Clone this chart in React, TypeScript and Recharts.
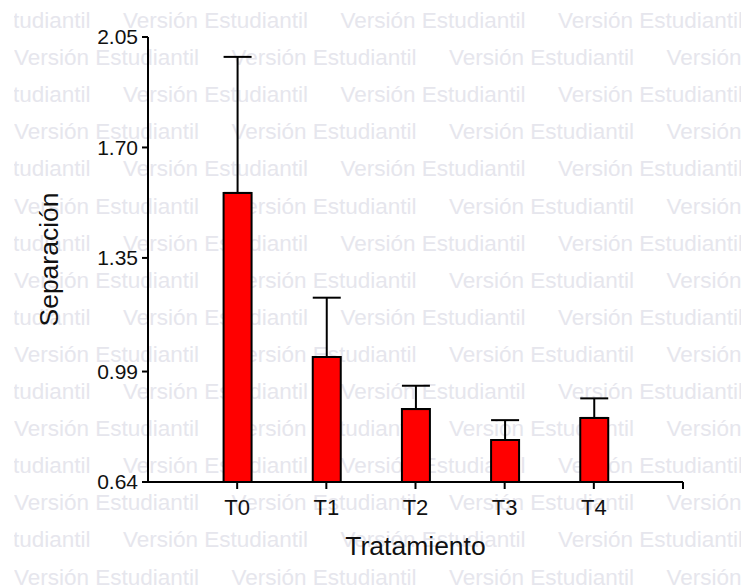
import React from "react";
import { Bar, BarChart, ErrorBar, XAxis, YAxis } from "recharts";

const categories = ["T0", "T1", "T2", "T3", "T4"];
const means = [1.556, 1.036, 0.871, 0.773, 0.843];
const upperErrors = [0.431, 0.188, 0.074, 0.063, 0.062];
const yTicks = [0.64, 0.99, 1.35, 1.7, 2.05];
const xTicks = [1, 2, 3, 4, 5, 6];

const WATERMARK = "Versión Estudiantil";
const FONT = "'Liberation Sans', Arial, sans-serif";
const INK = "#111111";

const data = categories.map((name, i) => ({
  name,
  pos: i + 1,
  value: means[i],
  errRange: [0, upperErrors[i]],
}));

// background "student version" stamp, behind the chart
function Watermark() {
  const rows = [];
  for (let r = 0; r < 16; r++) {
    const y = 28 + r * 37.1;
    const start = r % 2 === 0 ? -94.5 : 14;
    for (let c = 0; c < 5; c++) {
      rows.push(
        <text key={`${r}-${c}`} x={start + c * 217.5} y={y}>
          {WATERMARK}
        </text>
      );
    }
  }
  return (
    <svg
      width={741}
      height={587}
      style={{ position: "absolute", left: 0, top: 0 }}
    >
      <defs>
        <clipPath id="wm-clip">
          <rect x={14} y={0} width={727} height={587} />
        </clipPath>
      </defs>
      <g
        clipPath="url(#wm-clip)"
        fill="#e6e6ed"
        fontFamily={FONT}
        fontSize={22.5}
      >
        {rows}
      </g>
    </svg>
  );
}

export default function App() {
  return (
    <div
      style={{
        position: "absolute",
        left: 0,
        top: 0,
        width: 741,
        height: 587,
        background: "#fff",
      }}
    >
      <Watermark />
      <div style={{ position: "absolute", left: 0, top: 0 }}>
        <BarChart
          width={741}
          height={587}
          data={data}
          margin={{ top: 37, right: 58, bottom: 0, left: 0 }}
        >
          <XAxis
            dataKey="pos"
            type="number"
            domain={[0, 6]}
            ticks={xTicks}
            allowDecimals={false}
            tickFormatter={(v) => categories[v - 1] ?? ""}
            height={105}
            stroke="#000"
            strokeWidth={2}
            tickSize={7}
            tickMargin={10}
            tick={{ fill: INK, fontSize: 22, fontFamily: FONT }}
            label={({ viewBox }: any) => (
              <text
                x={viewBox.x + viewBox.width / 2}
                y={viewBox.y + 73}
                textAnchor="middle"
                fill={INK}
                fontSize={26.5}
                fontFamily={FONT}
              >
                Tratamiento
              </text>
            )}
          />
          <YAxis
            type="number"
            domain={[0.64, 2.05]}
            ticks={yTicks}
            allowDataOverflow
            width={148}
            stroke="#000"
            strokeWidth={2}
            tickSize={6}
            tickMargin={4}
            tickFormatter={(v) => Number(v).toFixed(2)}
            tick={{ fill: INK, fontSize: 21, fontFamily: FONT }}
            label={({ viewBox }: any) => {
              const cx = viewBox.x + 58;
              const cy = viewBox.y + viewBox.height / 2;
              return (
                <text
                  x={cx}
                  y={cy}
                  transform={`rotate(-90, ${cx}, ${cy})`}
                  textAnchor="middle"
                  fill={INK}
                  fontSize={26.5}
                  fontFamily={FONT}
                >
                  Separación
                </text>
              );
            }}
          />
          <Bar
            dataKey="value"
            fill="#ff0000"
            stroke="#000"
            strokeWidth={2}
            barSize={28}
            isAnimationActive={false}
          >
            <ErrorBar
              dataKey="errRange"
              direction="y"
              width={14}
              stroke="#000"
              strokeWidth={2}
              isAnimationActive={false}
            />
          </Bar>
        </BarChart>
      </div>
    </div>
  );
}
